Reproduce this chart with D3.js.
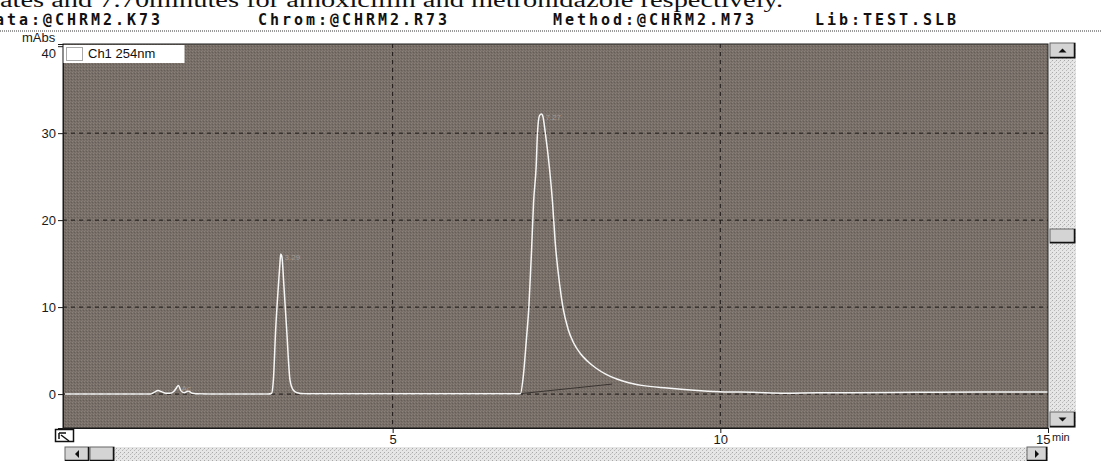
<!DOCTYPE html>
<html>
<head>
<meta charset="utf-8">
<script src="https://cdn.jsdelivr.net/npm/d3@7"></script>
<style>
  html, body { margin: 0; padding: 0; background: #ffffff; }
  svg { display: block; }
</style>
</head>
<body>
<svg id="chart" width="1101" height="461"></svg>
<script>
// ---------- data ----------
const captionText = "ates and 7.70minutes for amoxicillin and metronidazole respectively.";
const headerLabels = ["Data:@CHRM2.K73", "Chrom:@CHRM2.R73", "Method:@CHRM2.M73", "Lib:TEST.SLB"];
const yTicks = [0, 10, 20, 30, 40];
const xTicks = [5, 10, 15];
const yGrid = [0, 10, 20, 30];
const xGrid = [5, 10];
const legendLabel = "Ch1 254nm";
const yUnit = "mAbs";
const xUnit = "min";

const times = [0, 1.30, 1.36, 1.42, 1.48, 1.54, 1.60, 1.66, 1.70, 1.73, 1.77, 1.82, 1.88, 1.94, 2.0, 2.4, 2.8, 3.10,
  3.154, 3.18, 3.215, 3.255, 3.28, 3.292, 3.31, 3.342, 3.383, 3.434, 3.48, 3.54, 3.66, 4.5, 5.5, 6.5,
  6.95, 6.99, 7.04, 7.08, 7.12, 7.15, 7.19, 7.21, 7.24, 7.27, 7.29, 7.33, 7.39, 7.44, 7.48, 7.55, 7.60,
  7.68, 7.76, 7.87, 7.97, 8.10, 8.25, 8.43, 8.60, 8.8, 9.19, 9.6, 10.0, 10.5, 11.0, 11.5, 12.0, 13.0, 14.0, 15.0];
const absorbance = [0, 0, 0.2, 0.4, 0.25, 0.1, 0.1, 0.3, 0.7, 1.0, 0.4, 0.15, 0.35, 0.1, 0.05, 0, 0, 0,
  0.1, 1.6, 7.4, 12.3, 15.0, 16.1, 15.8, 12.3, 7.4, 1.6, 0.5, 0.15, 0.05, 0.05, 0.05, 0.05,
  0.05, 1.8, 6.2, 10.2, 16.6, 22, 26.2, 30, 32.0, 32.2, 32.0, 30, 26.2, 22, 17.5, 12.5, 9.9,
  7.4, 5.9, 4.6, 3.8, 3.0, 2.3, 1.7, 1.3, 1.0, 0.7, 0.45, 0.28, 0.2, 0.1, 0.15, 0.15, 0.2, 0.25, 0.25];

const peakTimes = [3.29, 7.27];
const peakLabels = ["3.29", "7.27"];
const peakHeights = [16.1, 32.2];
const integrationBaseTimes = [6.95, 8.35];
const integrationBaseValues = [0.05, 1.15];

// ---------- layout ----------
const svg = d3.select("#chart");
const plot = { left: 63, right: 1048, top: 44, bottom: 428 };

const x = d3.scaleLinear().domain([-0.03, 15]).range([plot.left, plot.right]);
const y = d3.scaleLinear().domain([-3.9, 40.25]).range([plot.bottom, plot.top]);

// patterns
const defs = svg.append("defs");
const pBg = defs.append("pattern").attr("id", "dither").attr("width", 3).attr("height", 3)
  .attr("patternUnits", "userSpaceOnUse");
pBg.append("rect").attr("width", 3).attr("height", 3).attr("fill", "#776e67");
pBg.append("rect").attr("x", 0).attr("y", 0).attr("width", 1).attr("height", 1).attr("fill", "#8a817a");
pBg.append("rect").attr("x", 2).attr("y", 1).attr("width", 1).attr("height", 1).attr("fill", "#655d57");
pBg.append("rect").attr("x", 1).attr("y", 2).attr("width", 1).attr("height", 1).attr("fill", "#847a73");

const pSb = defs.append("pattern").attr("id", "sbar").attr("width", 4).attr("height", 4)
  .attr("patternUnits", "userSpaceOnUse");
pSb.append("rect").attr("width", 4).attr("height", 4).attr("fill", "#e6e6e6");
pSb.append("rect").attr("x", 0).attr("y", 0).attr("width", 1).attr("height", 1).attr("fill", "#a9a9a9");
pSb.append("rect").attr("x", 2).attr("y", 2).attr("width", 1).attr("height", 1).attr("fill", "#b8b8b8");
pSb.append("rect").attr("x", 3).attr("y", 1).attr("width", 1).attr("height", 1).attr("fill", "#cfcfcf");

// caption (cut off at top)
svg.append("text").attr("x", 0).attr("y", 7)
  .attr("font-family", "Liberation Serif, serif").attr("font-size", 20)
  .attr("textLength", 783).attr("lengthAdjust", "spacingAndGlyphs")
  .attr("fill", "#111").text(captionText);

// header labels
const headerX = [-17, 258, 553, 815];
headerLabels.forEach((t, i) => {
  svg.append("text").attr("x", headerX[i]).attr("y", 25)
    .attr("font-family", "DejaVu Sans Mono, monospace").attr("font-weight", "bold")
    .attr("font-size", 15).attr("textLength", t.length * 12 - 3).attr("lengthAdjust", "spacing")
    .attr("fill", "#111").text(t);
});
// dotted separator
svg.append("line").attr("x1", 0).attr("x2", 1101).attr("y1", 31).attr("y2", 31)
  .attr("stroke", "#9a9a9a").attr("stroke-width", 2).attr("stroke-dasharray", "1,1");

// plot background
svg.append("rect").attr("x", plot.left).attr("y", plot.top)
  .attr("width", plot.right - plot.left).attr("height", plot.bottom - plot.top)
  .attr("fill", "url(#dither)");

// grid
const g = svg.append("g");
g.selectAll("line.hg").data(yGrid).join("line")
  .attr("x1", plot.left).attr("x2", plot.right)
  .attr("y1", d => y(d)).attr("y2", d => y(d))
  .attr("stroke", "#1c1816").attr("stroke-width", 1).attr("stroke-dasharray", "4,4");
g.selectAll("line.vg").data(xGrid).join("line")
  .attr("x1", d => x(d)).attr("x2", d => x(d))
  .attr("y1", plot.top).attr("y2", plot.bottom)
  .attr("stroke", "#1c1816").attr("stroke-width", 1).attr("stroke-dasharray", "4,4");

// integration baseline
svg.append("line")
  .attr("x1", x(integrationBaseTimes[0])).attr("y1", y(integrationBaseValues[0]))
  .attr("x2", x(integrationBaseTimes[1])).attr("y2", y(integrationBaseValues[1]))
  .attr("stroke", "#3a3431").attr("stroke-width", 1);

// trace
const pts = times.map((t, i) => [t, absorbance[i]]);
const line = d3.line().x(d => x(d[0])).y(d => y(d[1])).curve(d3.curveMonotoneX);
svg.append("path").datum(pts).attr("d", line)
  .attr("fill", "none").attr("stroke", "#f6f6f6").attr("stroke-width", 1.5);

// faint peak labels
peakTimes.forEach((t, i) => {
  svg.append("text").attr("x", x(t) + 4).attr("y", y(peakHeights[i]) + 6)
    .attr("font-family", "Liberation Sans, sans-serif").attr("font-size", 8)
    .attr("fill", "#a39a93").text(peakLabels[i]);
});
svg.append("text").attr("x", x(1.78)).attr("y", y(0.4))
  .attr("font-family", "Liberation Sans, sans-serif").attr("font-size", 8)
  .attr("fill", "#a39a93").text("Ac");

// plot border
svg.append("rect").attr("x", plot.left).attr("y", plot.top)
  .attr("width", plot.right - plot.left).attr("height", plot.bottom - plot.top)
  .attr("fill", "none").attr("stroke", "#1a1a1a").attr("stroke-width", 1);

// axes
const yAxis = d3.axisLeft(y).tickValues(yTicks).tickSize(5).tickPadding(2).tickFormat(d3.format("d"));
const ya = svg.append("g").attr("transform", `translate(${plot.left},0)`).call(yAxis);
ya.select(".domain").attr("stroke", "#1a1a1a");
ya.selectAll(".tick line").attr("stroke", "#1a1a1a");
ya.selectAll(".tick text").attr("font-family", "Liberation Sans, Arial, sans-serif")
  .attr("font-size", 13).attr("fill", "#1a1a1a")
  .attr("dy", d => d === 40 ? "0.9em" : "0.32em");

const xAxis = d3.axisBottom(x).tickValues(xTicks).tickSize(5).tickPadding(2).tickFormat(d3.format("d"));
const xa = svg.append("g").attr("transform", `translate(0,${plot.bottom})`).call(xAxis);
xa.select(".domain").attr("stroke", "#1a1a1a");
xa.selectAll(".tick line").attr("stroke", "#1a1a1a");
xa.selectAll(".tick text").attr("font-family", "Liberation Sans, Arial, sans-serif")
  .attr("font-size", 13).attr("fill", "#1a1a1a")
  .attr("text-anchor", d => d === 15 ? "end" : "middle")
  .attr("dx", d => d === 15 ? 2 : 0);

svg.append("text").attr("x", 1052).attr("y", 441)
  .attr("font-family", "Liberation Sans, Arial, sans-serif").attr("font-size", 11)
  .attr("fill", "#1a1a1a").text(xUnit);
svg.append("text").attr("x", 22).attr("y", 42)
  .attr("font-family", "Liberation Sans, Arial, sans-serif").attr("font-size", 13)
  .attr("fill", "#1a1a1a").text(yUnit);

// legend
svg.append("rect").attr("x", plot.left + 0.5).attr("y", plot.top + 1).attr("width", 121).attr("height", 18)
  .attr("fill", "#ffffff");
svg.append("rect").attr("x", 66.5).attr("y", 47.5).attr("width", 16).attr("height", 13)
  .attr("fill", "#ffffff").attr("stroke", "#555").attr("stroke-dasharray", "1,1");
svg.append("text").attr("x", 88).attr("y", 58)
  .attr("font-family", "Liberation Sans, Arial, sans-serif").attr("font-size", 13)
  .attr("fill", "#111").text(legendLabel);

// vertical scrollbar
const vs = { x: 1049, w: 27, top: 43, bottom: 428 };
svg.append("rect").attr("x", vs.x).attr("y", vs.top).attr("width", vs.w).attr("height", vs.bottom - vs.top)
  .attr("fill", "url(#sbar)");
function button(bx, by, bw, bh, arrow) {
  svg.append("rect").attr("x", bx).attr("y", by).attr("width", bw).attr("height", bh)
    .attr("fill", "#d4d4d4").attr("stroke", "#666").attr("stroke-width", 1);
  svg.append("path").attr("d", `M${bx + bw - 0.5},${by} V${by + bh - 0.5} H${bx}`)
    .attr("stroke", "#111").attr("stroke-width", 1.5).attr("fill", "none");
  const cx = bx + bw / 2, cy = by + bh / 2;
  let d = "";
  if (arrow === "up") d = `M${cx - 4},${cy + 2} L${cx + 4},${cy + 2} L${cx},${cy - 2} Z`;
  if (arrow === "down") d = `M${cx - 4},${cy - 2} L${cx + 4},${cy - 2} L${cx},${cy + 2} Z`;
  if (arrow === "left") d = `M${cx + 2},${cy - 4} L${cx + 2},${cy + 4} L${cx - 2},${cy} Z`;
  if (arrow === "right") d = `M${cx - 2},${cy - 4} L${cx - 2},${cy + 4} L${cx + 2},${cy} Z`;
  if (d) svg.append("path").attr("d", d).attr("fill", "#111");
}
button(vs.x + 1, 43, 25, 15, "up");
button(vs.x + 1, 229, 25, 14, "");
button(vs.x + 1, 412, 25, 15, "down");

// horizontal scrollbar
svg.append("rect").attr("x", 65).attr("y", 447).attr("width", 983).attr("height", 14)
  .attr("fill", "url(#sbar)");
button(65, 447, 24, 14, "left");
button(90, 447, 24, 14, "");
button(1027, 447, 20, 14, "right");

// bottom-left zoom icon
svg.append("rect").attr("x", 55.5).attr("y", 429.5).attr("width", 18).attr("height", 12)
  .attr("fill", "#fff").attr("stroke", "#111").attr("stroke-width", 1.5);
svg.append("path").attr("d", "M59,433 L66,433 M59,433 L59,439 M61,435 L69,441")
  .attr("stroke", "#111").attr("stroke-width", 1.5).attr("fill", "none");
</script>
</body>
</html>
